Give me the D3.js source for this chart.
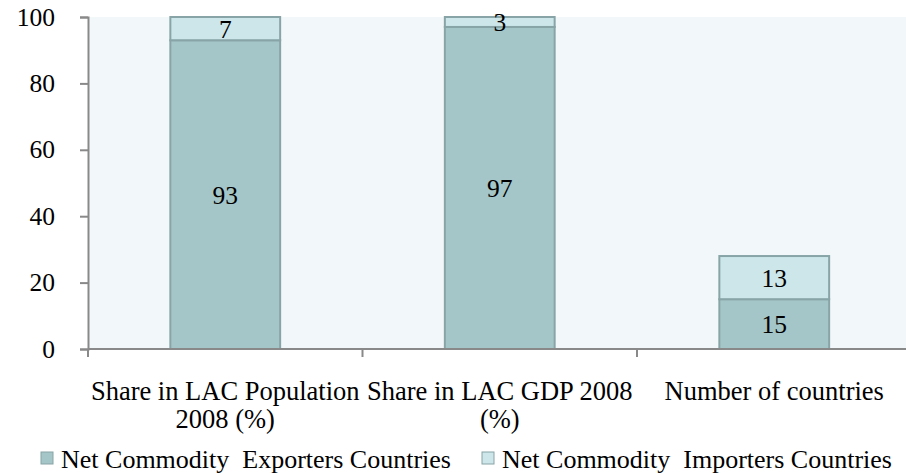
<!DOCTYPE html>
<meta charset="utf-8">
<script src="https://cdn.jsdelivr.net/npm/d3@7"></script>
<style>
body { margin: 0; background: #fff; }
text { font-family: "Liberation Serif", "Times New Roman", serif; fill: #000; }
</style>
<body>
<script>
// chart data
var categories = ["Share in LAC Population 2008 (%)", "Share in LAC GDP 2008 (%)", "Number of countries"];
var catLines = [["Share in LAC Population", "2008 (%)"], ["Share in LAC GDP 2008", "(%)"], ["Number of countries"]];
var seriesNames = ["Net Commodity  Exporters Countries", "Net Commodity  Importers Countries"];
var exporters = [93, 97, 15];
var importers = [7, 3, 13];
var yTicks = [0, 20, 40, 60, 80, 100];

var W = 906, H = 473;
var margin = {top: 17, left: 88},
    plotW = 823.5,
    plotH = 332;

var colors = ["#a5c6c8", "#cde6ea"];
var barStroke = "#88a4a6";
var axisCol = "#898989";

var svg = d3.select("body").append("svg")
    .attr("width", W)
    .attr("height", H);

var x = d3.scaleBand()
    .domain(categories)
    .range([margin.left, margin.left + plotW])
    .paddingInner(0.6)
    .paddingOuter(0.3);

var y = d3.scaleLinear()
    .domain([0, 100])
    .range([margin.top + plotH, margin.top]);

// plot background
svg.append("rect")
    .attr("x", margin.left)
    .attr("y", margin.top)
    .attr("width", plotW)
    .attr("height", plotH)
    .attr("fill", "#f2f7fa");

// stacked bars
var stackData = categories.map(function(c, i) {
  return {cat: c, exp: exporters[i], imp: importers[i]};
});
var stack = d3.stack().keys(["exp", "imp"])(stackData);

var layers = svg.selectAll(".layer")
    .data(stack)
    .enter().append("g")
    .attr("class", "layer")
    .attr("fill", function(d, i) { return colors[i]; });

layers.selectAll("rect")
    .data(function(d) { return d; })
    .enter().append("rect")
    .attr("x", function(d) { return x(d.data.cat); })
    .attr("y", function(d) { return y(d[1]); })
    .attr("width", x.bandwidth())
    .attr("height", function(d) { return y(d[0]) - y(d[1]); })
    .attr("stroke", barStroke)
    .attr("stroke-width", 2);

layers.selectAll(".val")
    .data(function(d) { return d; })
    .enter().append("text")
    .attr("class", "val")
    .attr("x", function(d) { return x(d.data.cat) + x.bandwidth() / 2; })
    .attr("y", function(d) { return (y(d[0]) + y(d[1])) / 2; })
    .attr("dy", "0.35em")
    .attr("text-anchor", "middle")
    .style("font-size", "25.5px")
    .text(function(d) { return d[1] - d[0]; });

// y axis
var yAxis = d3.axisLeft(y)
    .tickValues(yTicks)
    .tickSize(8)
    .tickPadding(25)
    .tickFormat(d3.format("d"));

var gy = svg.append("g")
    .attr("transform", "translate(" + margin.left + ",0)")
    .call(yAxis);
gy.select(".domain").attr("stroke", axisCol).attr("stroke-width", 2);
gy.selectAll(".tick line").attr("stroke", axisCol).attr("stroke-width", 2);
gy.selectAll(".tick text")
    .style("font-family", "Liberation Serif")
    .style("font-size", "25.5px");

// x axis line + boundary ticks
var base = y(0);
svg.append("line")
    .attr("x1", margin.left).attr("x2", margin.left + plotW)
    .attr("y1", base).attr("y2", base)
    .attr("stroke", axisCol).attr("stroke-width", 2);

d3.range(categories.length + 1).forEach(function(i) {
  var tx = margin.left + i * x.step();
  svg.append("line")
      .attr("x1", tx).attr("x2", tx)
      .attr("y1", base).attr("y2", base + 8)
      .attr("stroke", axisCol).attr("stroke-width", 2);
});

// category labels
categories.forEach(function(c, i) {
  var t = svg.append("text")
      .attr("text-anchor", "middle")
      .style("font-size", "26.5px");
  catLines[i].forEach(function(line, j) {
    t.append("tspan")
        .attr("x", x(c) + x.bandwidth() / 2)
        .attr("y", 400 + j * 28)
        .text(line);
  });
});

// legend
var legX = [41, 482];
seriesNames.forEach(function(s, i) {
  svg.append("rect")
      .attr("x", legX[i])
      .attr("y", 452)
      .attr("width", 12)
      .attr("height", 12)
      .attr("fill", colors[i])
      .attr("stroke", barStroke)
      .attr("stroke-width", 1);
  svg.append("text")
      .attr("x", legX[i] + 20)
      .attr("y", 468)
      .style("font-size", "26px")
      .style("white-space", "pre")
      .text(s);
});
</script>
</body>
</html>
